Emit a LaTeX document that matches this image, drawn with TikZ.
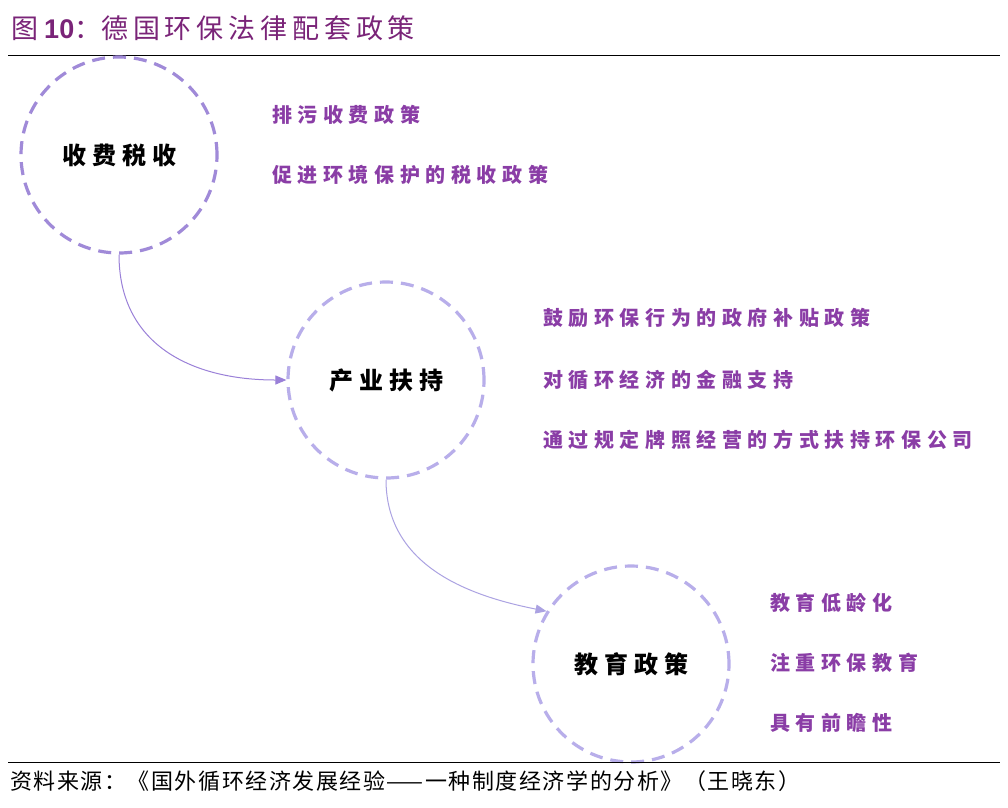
\documentclass[tikz,border=0pt]{standalone}
\usepackage{fontspec}
\setmainfont{Noto Sans CJK SC}
\newfontfamily\cjk{Noto Sans CJK SC}
\newfontfamily\arialb{Liberation Sans}
\usetikzlibrary{arrows.meta}
\definecolor{titlec}{HTML}{7A2478}
\definecolor{labc}{HTML}{8A3DA6}
\definecolor{ringA}{HTML}{A08AD8}
\definecolor{ringB}{HTML}{B8AEEA}
\definecolor{arrA}{HTML}{9A80D8}
\definecolor{arrB}{HTML}{ABA2E2}
\tikzset{
  ring/.style={circle,minimum size=196pt,inner sep=0pt,line width=3.2pt,dash pattern=on 13pt off 8pt,font=\fontsize{24}{24}\selectfont\bfseries\addfontfeature{LetterSpace=25}},
  lab/.style={anchor=west,inner sep=0pt,text=labc,font=\fontsize{20}{20}\selectfont\bfseries\addfontfeature{LetterSpace=28}},
  conn/.style={line width=1pt,-{Triangle[length=11pt,width=9pt]}},
}
\begin{document}
\begin{tikzpicture}[x=1pt,y=-1pt]
\useasboundingbox (0,0) rectangle (1008,807);
\fill[white] (0,0) rectangle (1008,807);
% title
\node[anchor=west,inner sep=0pt,text=titlec,font=\fontsize{27}{27}\selectfont] (title) at (11,28) {图 {\arialb\bfseries 10}：\addfontfeature{LetterSpace=18}德国环保法律配套政策};
\draw[line width=1pt] (8,55) coordinate (tl) -- (1000,55) coordinate (tr);
% circles
\node[ring,draw=ringA] (c1) at (119,155) {收费税收};
\node[ring,draw=ringB] (c2) at (386,380) {产业扶持};
\node[ring,draw=ringB] (c3) at (631,664) {教育政策};
% connectors
\draw[conn,color=arrA] (c1.south) .. controls +(0,90) and +(-95,0) .. (c2.west);
\draw[conn,color=arrB] (c2.south) .. controls +(0,90) and +(-70,-14) .. (c3.148);
% labels
\node[lab] (l1) at (272,115) {排污收费政策};
\node[lab] (l2) at (272,175) {促进环境保护的税收政策};
\node[lab] (l3) at (543,318) {鼓励环保行为的政府补贴政策};
\node[lab] (l4) at (543,380) {对循环经济的金融支持};
\node[lab] (l5) at (543,440) {通过规定牌照经营的方式扶持环保公司};
\node[lab] (l6) at (770,603) {教育低龄化};
\node[lab] (l7) at (770,663) {注重环保教育};
\node[lab] (l8) at (770,723) {具有前瞻性};
% footer
\draw[line width=1pt] (8,762) coordinate (bl) -- (1000,762) coordinate (br);
\node[anchor=west,inner sep=0pt,font=\fontsize{22}{22}\selectfont\addfontfeature{LetterSpace=7}] (src) at (10,781) {资料来源：《国外循环经济发展经验——一种制度经济学的分析》（王晓东）};
\end{tikzpicture}
\end{document}
